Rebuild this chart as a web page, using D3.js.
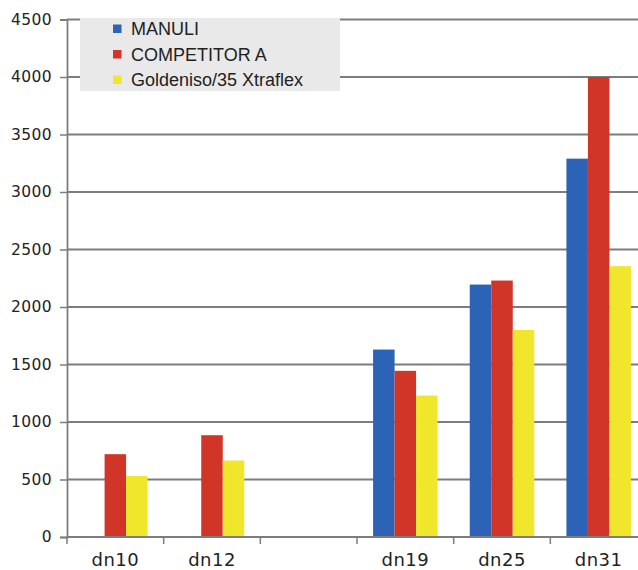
<!DOCTYPE html>
<html>
<head>
<meta charset="utf-8">
<script src="https://cdn.jsdelivr.net/npm/d3@7"></script>
<style>
  body { margin: 0; background: #fff; }
  svg { font-family: "Liberation Sans", Arial, sans-serif; }
</style>
</head>
<body>
<div class="chart"></div>
<script>
const categories = ['dn10', 'dn12', '', 'dn19', 'dn25', 'dn31'];
const seriesNames = ['MANULI', 'COMPETITOR A', 'Goldeniso/35 Xtraflex'];
const colors = ['#2d63b6', '#d13527', '#f0e62c'];
const manuli = [null, null, null, 1630, 2195, 3290];
const competitorA = [720, 885, null, 1445, 2230, 4000];
const goldeniso = [530, 665, null, 1230, 1800, 2355];
const yTicks = [0, 500, 1000, 1500, 2000, 2500, 3000, 3500, 4000, 4500];

const w = 638, h = 570;
const mLeft = 67, mRight = 647, mTop = 19.5, mBottom = 537;

const svg = d3.select('.chart').append('svg')
    .attr('width', w)
    .attr('height', h);

const x = d3.scaleBand().domain(d3.range(categories.length)).range([mLeft, mRight]);
const y = d3.scaleLinear().domain([0, 4500]).range([mBottom, mTop]);
const xs = d3.scaleBand().domain([0, 1, 2]).range([0, 64.5]);

//gridlines
svg.selectAll('.grid')
    .data(yTicks.filter(d => d > 0))
    .enter()
    .append('line')
    .attr('x1', mLeft).attr('x2', w)
    .attr('y1', d => y(d)).attr('y2', d => y(d))
    .attr('stroke', '#7d7d7d')
    .attr('stroke-width', 1.8);

//bars
const series = [manuli, competitorA, goldeniso];
series.forEach((vals, s) => {
    svg.selectAll('.bar' + s)
        .data(vals.map((v, i) => ({v, i})).filter(d => d.v !== null))
        .enter()
        .append('rect')
        .attr('x', d => x(d.i) + x.bandwidth() / 2 - 32.25 + xs(s))
        .attr('y', d => y(d.v))
        .attr('width', xs.bandwidth())
        .attr('height', d => mBottom - y(d.v))
        .attr('fill', colors[s]);
});

//y axis
const yAxis = svg.append('g')
    .attr('transform', `translate(${mLeft},0)`)
    .call(d3.axisLeft(y).tickValues(yTicks).tickFormat(d3.format('d')).tickSize(7).tickPadding(8));
yAxis.select('.domain').attr('stroke', '#7d7d7d').attr('stroke-width', 1.8);
yAxis.selectAll('.tick line').attr('stroke', '#7d7d7d').attr('stroke-width', 1.5);
yAxis.selectAll('.tick text')
    .attr('font-size', 15.5)
    .attr('letter-spacing', 0.4)
    .attr('fill', '#222')
    .attr('font-family', '"DejaVu Sans", sans-serif');

//x axis
const xAxis = svg.append('g')
    .attr('transform', `translate(0,${mBottom})`);
xAxis.append('line')
    .attr('x1', mLeft).attr('x2', w)
    .attr('stroke', '#7d7d7d').attr('stroke-width', 1.8);
xAxis.selectAll('.xt')
    .data(d3.range(categories.length + 1))
    .enter()
    .append('line')
    .attr('x1', i => mLeft + i * x.step()).attr('x2', i => mLeft + i * x.step())
    .attr('y1', 0).attr('y2', 7)
    .attr('stroke', '#7d7d7d').attr('stroke-width', 1.5);
xAxis.selectAll('text')
    .data(categories)
    .enter()
    .append('text')
    .text(d => d)
    .attr('x', (d, i) => x(i) + x.bandwidth() / 2)
    .attr('y', 29)
    .attr('text-anchor', 'middle')
    .attr('font-size', 18)
    .attr('letter-spacing', 0.5)
    .attr('font-family', '"DejaVu Sans", sans-serif')
    .attr('fill', '#222');

//legend
const lg = svg.append('g');
lg.append('rect')
    .attr('x', 80).attr('y', 18)
    .attr('width', 260).attr('height', 73)
    .attr('fill', '#e9e9e9');
seriesNames.forEach((name, i) => {
    lg.append('rect')
        .attr('x', 113).attr('y', 24.5 + i * 25.5)
        .attr('width', 8.5).attr('height', 8.5)
        .attr('fill', colors[i]);
    lg.append('text')
        .text(name)
        .attr('x', 131).attr('y', 35 + i * 25.5)
        .attr('font-size', 18)
        .attr('fill', '#222');
});
</script>
</body>
</html>
